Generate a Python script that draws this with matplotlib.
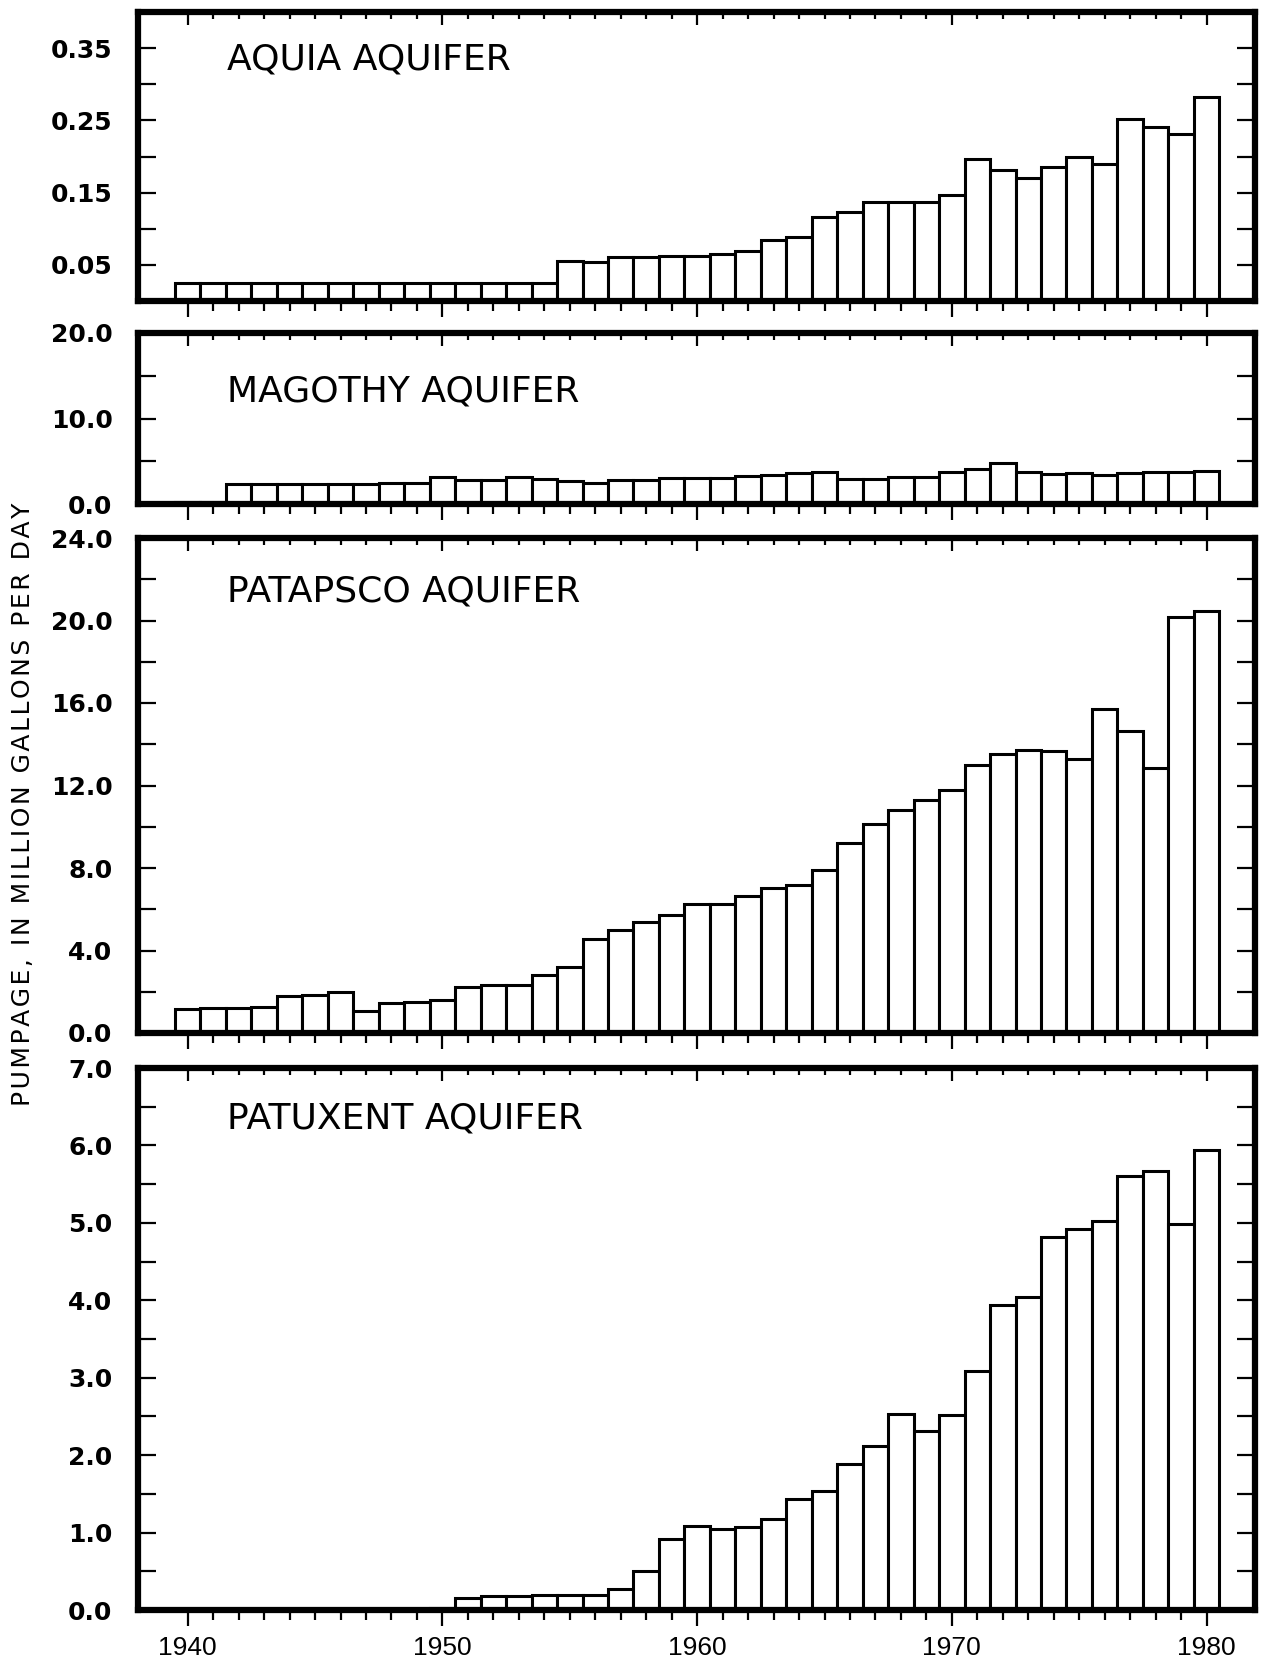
"""Annual pumpage by aquifer, 1940-1980 (four stacked bar panels)."""

import matplotlib

matplotlib.use("Agg")
import matplotlib.pyplot as plt

YEARS = list(range(1940, 1981))

AQUIA = [
    0.025, 0.025, 0.025, 0.025, 0.025, 0.025, 0.025, 0.025, 0.025, 0.025,
    0.025, 0.025, 0.025, 0.025, 0.025, 0.056, 0.054, 0.061, 0.061, 0.062,
    0.062, 0.065, 0.069, 0.085, 0.089, 0.116, 0.123, 0.137, 0.137, 0.137,
    0.147, 0.196, 0.181, 0.170, 0.186, 0.200, 0.189, 0.252, 0.241, 0.231,
    0.283,
]
MAGOTHY = [
    0.25, 0.25, 2.3, 2.35, 2.35, 2.3, 2.35, 2.3, 2.5, 2.4,
    3.2, 2.85, 2.85, 3.2, 2.95, 2.7, 2.5, 2.75, 2.75, 3.05,
    3.05, 3.05, 3.25, 3.4, 3.65, 3.8, 2.9, 2.95, 3.15, 3.2,
    3.8, 4.15, 4.8, 3.8, 3.55, 3.6, 3.45, 3.6, 3.7, 3.7,
    3.9,
]
PATAPSCO = [
    1.17, 1.22, 1.2, 1.25, 1.81, 1.86, 1.98, 1.09, 1.44, 1.49,
    1.6, 2.21, 2.32, 2.32, 2.8, 3.22, 4.56, 4.99, 5.36, 5.73,
    6.24, 6.27, 6.66, 7.04, 7.17, 7.92, 9.22, 10.14, 10.8, 11.3,
    11.8, 13.0, 13.54, 13.73, 13.68, 13.3, 15.73, 14.66, 12.85, 20.18,
    20.45,
]
PATUXENT = [
    0.0, 0.0, 0.0, 0.0, 0.0, 0.0, 0.0, 0.0, 0.0, 0.0,
    0.02, 0.16, 0.18, 0.18, 0.19, 0.19, 0.19, 0.27, 0.51, 0.92,
    1.08, 1.04, 1.07, 1.18, 1.43, 1.54, 1.89, 2.12, 2.53, 2.31,
    2.52, 3.09, 3.94, 4.04, 4.82, 4.92, 5.02, 5.6, 5.67, 4.99,
    5.94,
]

TITLES = ["AQUIA AQUIFER", "MAGOTHY AQUIFER", "PATAPSCO AQUIFER", "PATUXENT AQUIFER"]

AQUIA_TICKS = [0.05, 0.10, 0.15, 0.20, 0.25, 0.30, 0.35]
AQUIA_LABELS = ["0.05", "", "0.15", "", "0.25", "", "0.35"]
MAGOTHY_TICKS = [0.0, 5.0, 10.0, 15.0, 20.0]
MAGOTHY_LABELS = ["0.0", "", "10.0", "", "20.0"]
PATAPSCO_TICKS = [0, 2, 4, 6, 8, 10, 12, 14, 16, 18, 20, 22, 24]
PATAPSCO_LABELS = ["0.0", "", "4.0", "", "8.0", "", "12.0", "", "16.0", "", "20.0", "", "24.0"]
PATUXENT_TICKS = [0, 0.5, 1, 1.5, 2, 2.5, 3, 3.5, 4, 4.5, 5, 5.5, 6, 6.5, 7]
PATUXENT_LABELS = ["0.0", "", "1.0", "", "2.0", "", "3.0", "", "4.0", "", "5.0", "", "6.0", "", "7.0"]

DECADES = [1940, 1950, 1960, 1970, 1980]
YLABEL = "PUMPAGE, IN MILLION GALLONS PER DAY"

FIG_W, FIG_H = 1266, 1659
LEFT, RIGHT = 137.5, 1255.0
# (top, bottom) of each panel frame, in pixels from the top of the figure
PANEL_PX = [(12, 301), (333, 504), (538, 1033), (1068, 1610)]
TITLE_Y = [0.834, 0.655, 0.891, 0.906]
YLIMS = [0.40, 20.0, 24.0, 7.0]


def style_panel(ax, yticks, ylabels, ymax, bottom_labels):
    ax.set_xlim(1938.03, 1981.9)
    ax.set_ylim(0, ymax)
    for sp in ax.spines.values():
        sp.set_linewidth(4.5)
        sp.set_zorder(5)

    ax.set_yticks(yticks)
    ax.set_yticklabels(ylabels, fontsize=18, fontweight="bold", family="DejaVu Sans")
    ax.tick_params(axis="y", direction="in", left=True, right=True,
                   length=13, width=1.6, pad=18)

    ax.set_xticks(DECADES)
    ax.set_xticks(YEARS, minor=True)
    ax.tick_params(axis="x", which="major", direction="out", length=11.5, width=1.6,
                   top=False, bottom=True, pad=7)
    ax.tick_params(axis="x", which="minor", direction="out", length=7, width=1.6,
                   top=False, bottom=True)
    if bottom_labels:
        ax.set_xticklabels([str(d) for d in DECADES], fontsize=19, family="Liberation Sans")
    else:
        ax.set_xticklabels([])

    top = ax.secondary_xaxis("top")
    top.set_xticks(DECADES)
    top.set_xticks(YEARS, minor=True)
    top.tick_params(axis="x", which="major", direction="in", length=9.5, width=1.6,
                    labeltop=False)
    top.tick_params(axis="x", which="minor", direction="in", length=5, width=1.6,
                    labeltop=False)
    top.spines["top"].set_visible(False)


def main():
    plt.rcParams.update({"font.family": ["DejaVu Sans"]})
    fig = plt.figure(figsize=(FIG_W / 100, FIG_H / 100), dpi=100)

    series = [AQUIA, MAGOTHY, PATAPSCO, PATUXENT]
    ticks = [AQUIA_TICKS, MAGOTHY_TICKS, PATAPSCO_TICKS, PATUXENT_TICKS]
    labels = [AQUIA_LABELS, MAGOTHY_LABELS, PATAPSCO_LABELS, PATUXENT_LABELS]

    for i, vals in enumerate(series):
        top_px, bot_px = PANEL_PX[i]
        rect = [LEFT / FIG_W, 1 - bot_px / FIG_H,
                (RIGHT - LEFT) / FIG_W, (bot_px - top_px) / FIG_H]
        ax = fig.add_axes(rect)
        ax.bar(YEARS, vals, width=1.0, color="white", edgecolor="black",
               linewidth=2.2, zorder=2)
        style_panel(ax, ticks[i], labels[i], YLIMS[i], bottom_labels=(i == 3))
        ax.text(0.080, TITLE_Y[i], TITLES[i], transform=ax.transAxes,
                ha="left", va="center", fontsize=26, family="DejaVu Sans")

    spaced = "\u200a".join(YLABEL)
    fig.text(0.0178, 0.515, spaced, rotation=90, ha="center", va="center",
             fontsize=18, family="DejaVu Sans")

    fig.savefig("out.png", dpi=100)
    plt.close(fig)


if __name__ == "__main__":
    main()
